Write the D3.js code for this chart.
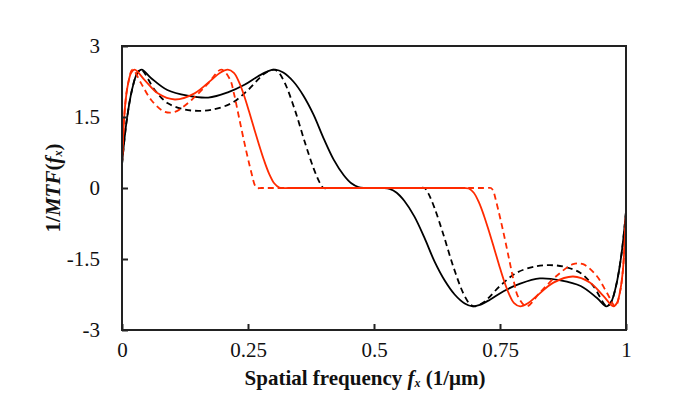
<!DOCTYPE html>
<html><head><meta charset="utf-8">
<script src="https://cdn.jsdelivr.net/npm/d3@7"></script>
<style>body{margin:0;background:#fff;} svg{display:block;}</style>
</head><body>
<svg id="c" width="683" height="414"></svg>
<script>
const xTicks = [0, 0.25, 0.5, 0.75, 1];
const xTickLabels = ["0", "0.25", "0.5", "0.75", "1"];
const yTicks = [-3, -1.5, 0, 1.5, 3];
const yTickLabels = ["-3", "-1.5", "0", "1.5", "3"];

const blackSolidX = [0, 0.009, 0.02, 0.03, 0.039, 0.058, 0.09, 0.13, 0.171, 0.21, 0.243, 0.27, 0.29, 0.304, 0.32, 0.34, 0.36, 0.38, 0.40, 0.42, 0.44, 0.455, 0.469, 0.48,
  0.52, 0.531, 0.545, 0.56, 0.58, 0.60, 0.62, 0.64, 0.66, 0.68, 0.696, 0.71, 0.73, 0.757, 0.79, 0.829, 0.87, 0.91, 0.942, 0.961, 0.97, 0.98, 0.991, 1];
const blackSolidY = [0.5, 1.4, 2.08, 2.42, 2.5, 2.32, 2.07, 1.95, 1.91, 2.02, 2.18, 2.36, 2.47, 2.5, 2.44, 2.25, 1.95, 1.55, 1.05, 0.6, 0.27, 0.1, 0.02, 0,
  0, -0.02, -0.1, -0.27, -0.6, -1.05, -1.55, -1.95, -2.25, -2.44, -2.5, -2.47, -2.36, -2.18, -2.02, -1.91, -1.95, -2.07, -2.32, -2.5, -2.42, -2.08, -1.4, -0.5];

const blackDashX = [0, 0.009, 0.02, 0.03, 0.038, 0.065, 0.091, 0.124, 0.151, 0.177, 0.217, 0.25, 0.283, 0.301, 0.31, 0.323, 0.343, 0.363, 0.38, 0.392, 0.40, 0.41,
  0.59, 0.60, 0.608, 0.62, 0.637, 0.657, 0.677, 0.69, 0.699, 0.717, 0.75, 0.783, 0.823, 0.849, 0.876, 0.909, 0.935, 0.962, 0.97, 0.98, 0.991, 1];
const blackDashY = [0.5, 1.4, 2.08, 2.42, 2.5, 2.07, 1.79, 1.66, 1.63, 1.65, 1.79, 2.07, 2.42, 2.5, 2.45, 2.22, 1.65, 0.96, 0.42, 0.12, 0, 0,
  0, 0, -0.12, -0.42, -0.96, -1.65, -2.22, -2.45, -2.5, -2.42, -2.07, -1.79, -1.65, -1.63, -1.66, -1.79, -2.07, -2.5, -2.42, -2.08, -1.4, -0.5];

const redSolidX = [0, 0.006, 0.012, 0.018, 0.025, 0.045, 0.071, 0.105, 0.144, 0.177, 0.194, 0.21, 0.222, 0.232, 0.242, 0.252, 0.262, 0.272, 0.282, 0.292, 0.302, 0.312, 0.32, 0.33,
  0.67, 0.68, 0.688, 0.698, 0.708, 0.718, 0.728, 0.738, 0.748, 0.758, 0.768, 0.778, 0.79, 0.806, 0.823, 0.856, 0.895, 0.929, 0.955, 0.975, 0.982, 0.988, 0.994, 1];
const redSolidY = [0.5, 1.72, 2.2, 2.43, 2.5, 2.28, 2.0, 1.87, 2.0, 2.28, 2.43, 2.5, 2.43, 2.24, 1.96, 1.62, 1.26, 0.91, 0.58, 0.3, 0.1, 0.01, 0, 0,
  0, 0, -0.01, -0.1, -0.3, -0.58, -0.91, -1.26, -1.62, -1.96, -2.24, -2.43, -2.5, -2.43, -2.28, -2.0, -1.87, -2.0, -2.28, -2.5, -2.43, -2.2, -1.72, -0.5];

const redDashX = [0, 0.006, 0.012, 0.021, 0.038, 0.058, 0.085, 0.105, 0.138, 0.171, 0.197, 0.214, 0.222, 0.232, 0.244, 0.257, 0.264, 0.268, 0.277,
  0.723, 0.732, 0.736, 0.743, 0.756, 0.768, 0.778, 0.786, 0.803, 0.829, 0.862, 0.895, 0.915, 0.942, 0.962, 0.979, 0.988, 0.994, 1];
const redDashY = [0.5, 1.72, 2.2, 2.5, 2.21, 1.86, 1.61, 1.61, 1.86, 2.21, 2.5, 2.3, 2.0, 1.5, 0.9, 0.31, 0.05, 0, 0,
  0, 0, -0.05, -0.31, -0.9, -1.5, -2.0, -2.3, -2.5, -2.21, -1.86, -1.61, -1.61, -1.86, -2.21, -2.5, -2.2, -1.72, -0.5];

const svg = d3.select("#c");
const L = 122, R = 626, T = 46, B = 330;
const x = d3.scaleLinear().domain([0, 1]).range([L, R]);
const y = d3.scaleLinear().domain([-3, 3]).range([B, T]);
const red = "#ff2a00";
const axisCol = "#222";
const serif = "'Liberation Serif', 'Times New Roman', serif";

const series = [
  {xs: blackSolidX, ys: blackSolidY, color: "#000", dash: null},
  {xs: blackDashX, ys: blackDashY, color: "#000", dash: "6,4"},
  {xs: redDashX, ys: redDashY, color: red, dash: "6,4"},
  {xs: redSolidX, ys: redSolidY, color: red, dash: null}
];
const line = d3.line().x(d => x(d[0])).y(d => y(d[1])).curve(d3.curveCatmullRom.alpha(0.5));
series.forEach(s => {
  const pts = s.xs.map((v, i) => [v, s.ys[i]]);
  svg.append("path").datum(pts).attr("d", line)
    .attr("fill", "none").attr("stroke", s.color).attr("stroke-width", 1.8)
    .attr("stroke-dasharray", s.dash);
});

// frame
svg.append("rect").attr("x", L).attr("y", T).attr("width", R - L).attr("height", B - T)
  .attr("fill", "none").attr("stroke", axisCol).attr("stroke-width", 2);

// axes (ticks inward)
const xAxis = d3.axisBottom(x).tickValues(xTicks).tickSize(-6).tickPadding(12)
  .tickFormat((d, i) => xTickLabels[i]);
const gx = svg.append("g").attr("transform", `translate(0,${B})`).call(xAxis);
const yAxis = d3.axisLeft(y).tickValues(yTicks).tickSize(-6).tickPadding(22)
  .tickFormat((d, i) => yTickLabels[i]);
const gy = svg.append("g").attr("transform", `translate(${L},0)`).call(yAxis);
[gx, gy].forEach(g => {
  g.select(".domain").remove();
  g.selectAll(".tick line").attr("stroke", axisCol).attr("stroke-width", 2);
  g.selectAll("text").attr("font-family", serif).attr("font-size", 21).attr("fill", "#111");
});
gx.selectAll(".tick text").attr("dy", "0.71em");
gy.selectAll(".tick text").attr("dy", "0.33em");

// x title
const xt = svg.append("text").attr("x", 365).attr("y", 385).attr("text-anchor", "middle")
  .attr("font-family", serif).attr("font-size", 21)
  .attr("font-weight", "bold").attr("fill", "#111");
xt.append("tspan").text("Spatial frequency ");
xt.append("tspan").attr("font-style", "italic").text("f");
xt.append("tspan").attr("font-style", "italic").attr("font-size", 12).attr("dy", 2).text("x");
xt.append("tspan").attr("dy", -2).text(" (1/μm)");

// y title
const yt = svg.append("text").attr("transform", `translate(60,${(T + B) / 2}) rotate(-90)`)
  .attr("text-anchor", "middle")
  .attr("font-family", serif).attr("font-size", 21)
  .attr("font-weight", "bold").attr("fill", "#111");
yt.append("tspan").text("1/");
yt.append("tspan").attr("font-style", "italic").text("MTF");
yt.append("tspan").text("(");
yt.append("tspan").attr("font-style", "italic").text("f");
yt.append("tspan").attr("font-style", "italic").attr("font-size", 12).attr("dy", 2).text("x");
yt.append("tspan").attr("dy", -2).text(")");
</script>
</body></html>
